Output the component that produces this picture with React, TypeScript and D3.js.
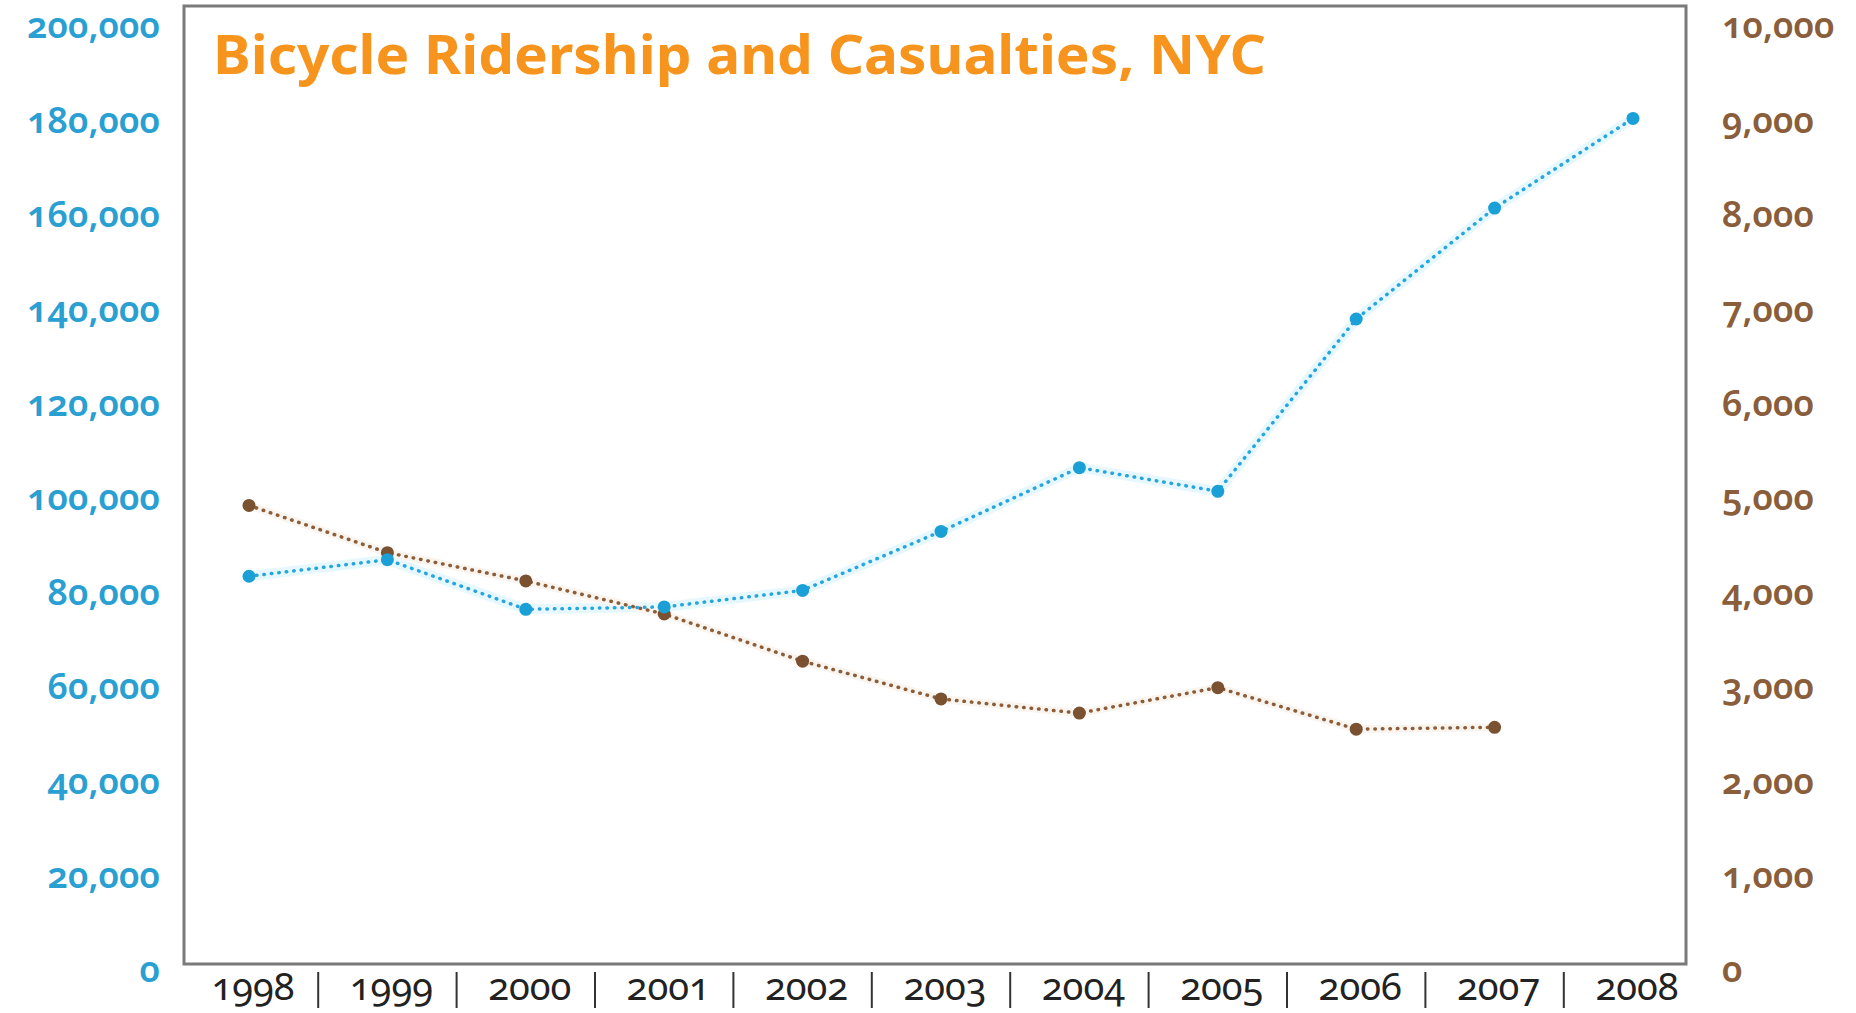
import { useMemo } from "react";
import * as d3 from "d3";

// Dual-axis dotted line chart: ridership (left, blue) vs casualties (right, brown).

const YEARS = [1998, 1999, 2000, 2001, 2002, 2003, 2004, 2005, 2006, 2007, 2008];
const RIDERSHIP = [83000, 86500, 76000, 76500, 80000, 92500, 106000, 101000, 137500, 161000, 180000];
const CASUALTY_YEARS = [1998, 1999, 2000, 2001, 2002, 2003, 2004, 2005, 2006, 2007];
const CASUALTIES = [4900, 4400, 4100, 3750, 3250, 2850, 2700, 2970, 2530, 2550];
const LEFT_TICKS = [0, 20000, 40000, 60000, 80000, 100000, 120000, 140000, 160000, 180000, 200000];
const RIGHT_TICKS = [0, 1000, 2000, 3000, 4000, 5000, 6000, 7000, 8000, 9000, 10000];
const TITLE = "Bicycle Ridership and Casualties, NYC";

const W = 1856;
const H = 1013;
const BLUE = "#27a6dd";
const BLUE_LABEL = "#2a9fd2";
const BLUE_DOT = "#1a9fd6";
const BROWN = "#8a5d3b";
const BROWN_DOT = "#7a5231";
const ORANGE = "#f7941d";
const FONT = "'Noto Sans', 'Open Sans', sans-serif";

export default function App() {
  const x = useMemo(() => d3.scaleLinear().domain([1998, 2008]).range([249, 1633]), []);
  const yL = useMemo(() => d3.scaleLinear().domain([0, 200000]).range([968, 24]), []);
  const yR = useMemo(() => d3.scaleLinear().domain([0, 10000]).range([968, 24]), []);
  const fmt = d3.format(",");

  const riders = YEARS.map((yr, i) => [x(yr), yL(RIDERSHIP[i])] as [number, number]);
  const cas = CASUALTY_YEARS.map((yr, i) => [x(yr), yR(CASUALTIES[i])] as [number, number]);
  const line = d3.line();

  const step = x(1999) - x(1998);

  return (
    <div style={{ position: "absolute", left: 0, top: 0 }}>
      <svg width={W} height={H} viewBox={`0 0 ${W} ${H}`} style={{ display: "block", background: "#fff" }}>
        {/* frame */}
        <rect x={184} y={6} width={1502} height={958} fill="#fff" stroke="#7a7a7a" strokeWidth={3} />

        <text
          x={213}
          y={74}
          fill={ORANGE}
          fontFamily={FONT}
          fontWeight={700}
          fontSize={53}
          textLength={1053}
          lengthAdjust="spacingAndGlyphs"
        >
          {TITLE}
        </text>

        {/* left axis labels */}
        {LEFT_TICKS.map((t) => (
          <text
            key={t}
            x={160}
            y={yL(t)}
            dy="0.4em"
            textAnchor="end"
            fill={BLUE_LABEL}
            fontFamily={FONT}
            fontWeight={600}
            fontSize={36}
            style={{ fontVariantNumeric: "oldstyle-nums" }}
          >
            {fmt(t)}
          </text>
        ))}

        {/* right axis labels */}
        {RIGHT_TICKS.map((t) => (
          <text
            key={t}
            x={1722}
            y={yR(t)}
            dy="0.4em"
            textAnchor="start"
            fill={BROWN}
            fontFamily={FONT}
            fontWeight={600}
            fontSize={36}
            style={{ fontVariantNumeric: "oldstyle-nums" }}
          >
            {fmt(t)}
          </text>
        ))}

        {/* x labels with separators */}
        {YEARS.map((yr, i) => (
          <g key={yr}>
            <text
              x={x(yr) + 4}
              y={989}
              dy="0.3em"
              textAnchor="middle"
              fill="#222"
              fontFamily={FONT}
              fontSize={38}
              style={{ fontVariantNumeric: "oldstyle-nums" }}
            >
              {yr}
            </text>
            {i < YEARS.length - 1 && (
              <line
                x1={x(yr) + step / 2}
                x2={x(yr) + step / 2}
                y1={972}
                y2={1008}
                stroke="#333"
                strokeWidth={2}
              />
            )}
          </g>
        ))}

        {/* faint halos + dotted lines */}
        <path d={line(riders) ?? ""} fill="none" stroke="#e6f8fe" strokeWidth={10} strokeLinejoin="round" />
        <path d={line(cas) ?? ""} fill="none" stroke="#faf4ee" strokeWidth={8} strokeLinejoin="round" />
        <path
          d={line(cas) ?? ""}
          fill="none"
          stroke={BROWN}
          strokeWidth={3.5}
          strokeDasharray="0.5 7"
          strokeLinecap="round"
        />
        <path
          d={line(riders) ?? ""}
          fill="none"
          stroke={BLUE}
          strokeWidth={3.5}
          strokeDasharray="0.5 7"
          strokeLinecap="round"
        />
        {cas.map(([cx, cy], i) => (
          <circle key={`c${i}`} cx={cx} cy={cy} r={6.5} fill={BROWN_DOT} />
        ))}
        {riders.map(([cx, cy], i) => (
          <circle key={`r${i}`} cx={cx} cy={cy} r={6.5} fill={BLUE_DOT} />
        ))}
      </svg>
    </div>
  );
}
